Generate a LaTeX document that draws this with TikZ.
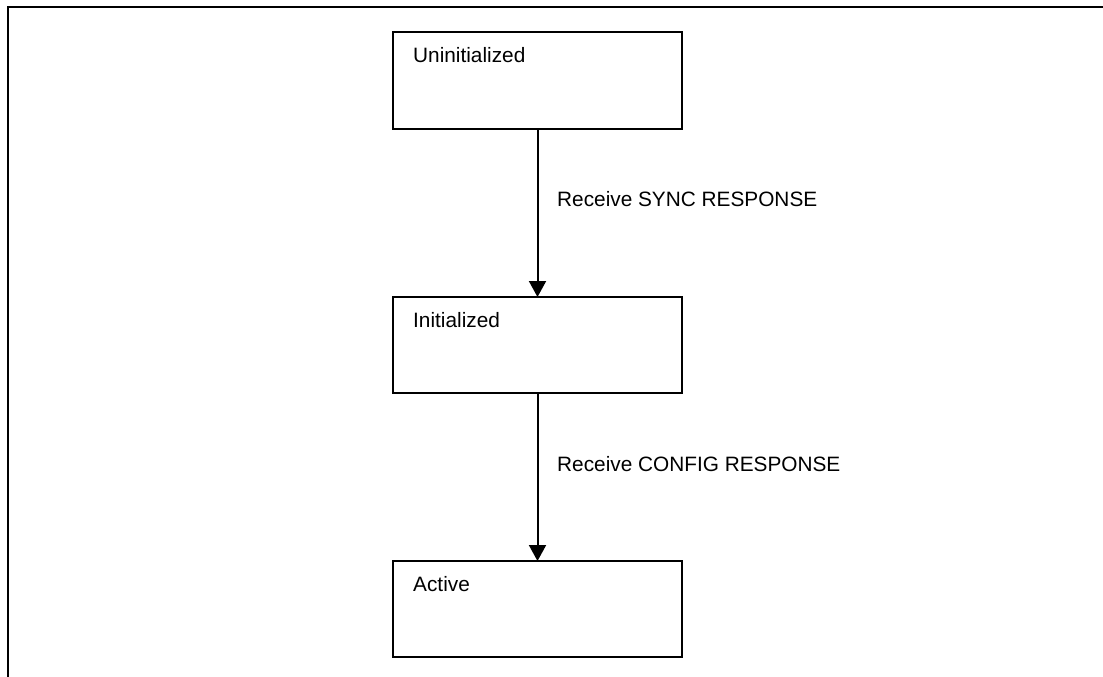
\documentclass[tikz,border=0pt]{standalone}
\usepackage{fontspec}
\setmainfont{Liberation Sans}
\usetikzlibrary{arrows.meta}
\tikzset{
  statebox/.style={draw=black, line width=2pt, minimum width=289pt, minimum height=96pt, inner sep=0pt, outer sep=0pt},
  boxtext/.style={anchor=base west, inner sep=0pt, font=\fontsize{20.8}{24}\selectfont},
  edgetext/.style={anchor=base west, inner sep=0pt, font=\fontsize{20.8}{24}\selectfont},
  trans/.style={draw=black, line width=2pt, -{Triangle[width=17pt,length=16pt]}},
}
\begin{document}
\begin{tikzpicture}[x=1pt,y=-1pt]
\useasboundingbox (0,0) rectangle (1103,677);
% frame
\draw[line width=2.4pt] (8,677) -- (8,7.5);
\draw[line width=2pt] (7,7.5) -- (1103,7.5);
% states
\node[statebox] (s1) at (537.5,80.5) {};
\node[statebox] (s2) at (537.5,345) {};
\node[statebox] (s3) at (537.5,609) {};
\node[boxtext] (t1) at (413,63) {Uninitialized};
\node[boxtext] (t2) at (413,327) {Initialized};
\node[boxtext] (t3) at (413,591) {Active};
% transitions
\draw[trans] (s1.south) -- (s2.north);
\draw[trans] (s2.south) -- (s3.north);
\node[edgetext] (l1) at (557,206) {Receive SYNC RESPONSE};
\node[edgetext] (l2) at (557,471) {Receive CONFIG RESPONSE};
\end{tikzpicture}
\end{document}
